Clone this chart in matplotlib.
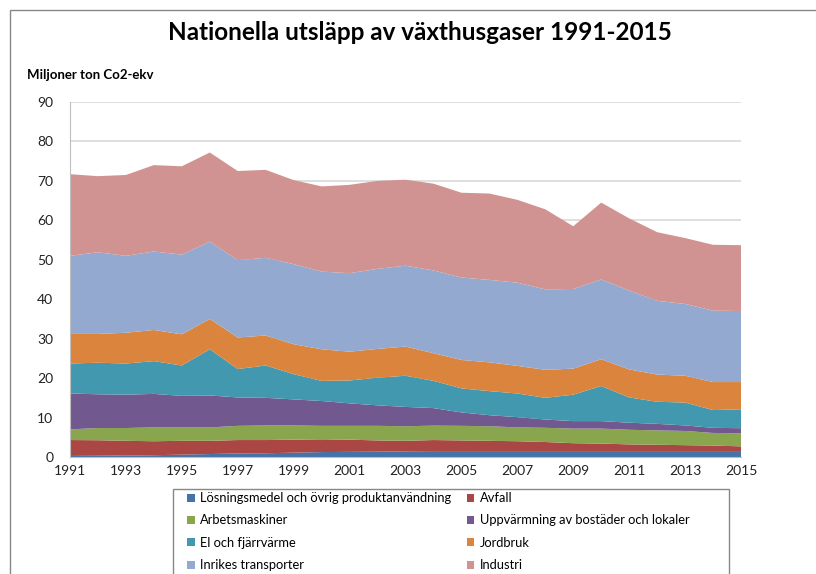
import numpy as np
import matplotlib.pyplot as plt
from matplotlib.patches import Rectangle, Patch

# data (Mton CO2-ekv per sector)
years = list(range(1991, 2016))

losningsmedel = [0.5, 0.45, 0.35, 0.45, 0.6, 0.75, 0.9, 0.95, 1.1, 1.25, 1.3, 1.35, 1.45,
                 1.5, 1.5, 1.5, 1.5, 1.5, 1.5, 1.5, 1.5, 1.5, 1.5, 1.5, 1.5]
avfall = [3.8, 3.8, 3.75, 3.55, 3.5, 3.35, 3.4, 3.35, 3.3, 3.05, 3.1, 2.85, 2.65,
          2.8, 2.7, 2.6, 2.5, 2.3, 2.0, 1.9, 1.7, 1.6, 1.5, 1.4, 1.2]
arbetsmaskiner = [2.7, 3.1, 3.25, 3.5, 3.4, 3.4, 3.6, 3.7, 3.6, 3.6, 3.5, 3.7, 3.7,
                  3.65, 3.7, 3.7, 3.5, 3.6, 3.7, 3.8, 3.7, 3.65, 3.6, 3.2, 3.3]
uppvarmning = [9.1, 8.55, 8.45, 8.5, 8.0, 8.1, 7.2, 7.0, 6.6, 6.3, 5.7, 5.2, 4.9,
               4.45, 3.4, 2.8, 2.6, 2.1, 1.9, 1.9, 1.8, 1.65, 1.4, 1.3, 1.3]
el_fjarrvarme = [7.6, 8.0, 7.9, 8.3, 7.7, 11.7, 7.2, 8.2, 6.4, 5.1, 5.8, 7.0, 7.9,
                 6.9, 6.1, 6.1, 6.0, 5.5, 6.7, 8.9, 6.4, 5.6, 5.8, 4.5, 4.8]
jordbruk = [7.5, 7.3, 7.8, 7.9, 7.9, 7.7, 8.0, 7.6, 7.6, 8.0, 7.3, 7.3, 7.4,
            7.0, 7.2, 7.3, 7.0, 7.1, 6.6, 6.8, 7.1, 6.9, 6.8, 7.1, 6.9]
inrikes_transporter = [19.8, 20.7, 19.5, 19.9, 20.2, 19.6, 19.6, 19.7, 20.3, 19.7, 19.9, 20.3, 20.5,
                       21.0, 20.9, 20.9, 21.1, 20.4, 20.2, 20.2, 20.0, 18.7, 18.2, 18.1, 18.0]
industri = [20.7, 19.3, 20.5, 21.9, 22.4, 22.6, 22.6, 22.3, 21.3, 21.6, 22.4, 22.3, 21.8,
            22.0, 21.5, 21.9, 21.0, 20.3, 15.9, 19.5, 18.3, 17.4, 16.7, 16.7, 16.7]

labels = ["Lösningsmedel och övrig produktanvändning", "Avfall", "Arbetsmaskiner",
          "Uppvärmning av bostäder och lokaler", "El och fjärrvärme", "Jordbruk",
          "Inrikes transporter", "Industri"]
colors = ["#4572A7", "#AA4643", "#89A54E", "#71588F", "#4198AF", "#DB843D",
          "#94A9D0", "#D19391"]

plt.rcParams['font.family'] = ['Lato', 'DejaVu Sans']

fig = plt.figure(figsize=(8.16, 5.74), dpi=100)

# outer chart border (top and left visible)
fig.patches.append(Rectangle((10 / 816, -0.1), 1.0, 1 - 10 / 574 + 0.1,
                             transform=fig.transFigure, fill=False,
                             edgecolor='#888888', linewidth=1.0))

ax = fig.add_axes([70 / 816, 117 / 574, 671 / 816, 355 / 574])

series = [losningsmedel, avfall, arbetsmaskiner, uppvarmning,
          el_fjarrvarme, jordbruk, inrikes_transporter, industri]
ax.stackplot(years, series, colors=colors, linewidth=0)

ax.set_xlim(1991, 2015)
ax.set_ylim(0, 90)
ax.set_yticks(range(0, 91, 10))
ax.set_xticks(range(1991, 2016, 2))
ax.yaxis.grid(True, color='#d9d9d9', linewidth=1.2)
ax.set_axisbelow(True)
for s in ['top', 'right']:
    ax.spines[s].set_visible(False)
ax.spines['left'].set_color('#bfbfbf')
ax.spines['bottom'].set_color('#bfbfbf')
ax.tick_params(axis='both', length=0, labelsize=10, colors='#222222')
ax.tick_params(axis='y', pad=12)
ax.tick_params(axis='x', pad=6)

fig.text(420 / 816, 1 - 33 / 574, "Nationella utsläpp av växthusgaser 1991-2015",
         ha='center', va='center', fontsize=17.5, fontweight='bold')
fig.text(27 / 816, 1 - 75 / 574, "Miljoner ton Co2-ekv", ha='left', va='center',
         fontsize=9.5, fontweight='bold')

# legend box, cut off at the bottom of the image
fig.patches.append(Rectangle((173 / 816, -0.05), 556 / 816, 1 - 489 / 574 + 0.05,
                             transform=fig.transFigure, fill=False,
                             edgecolor='#888888', linewidth=1.0))
order = [0, 2, 4, 6, 1, 3, 5, 7]
handles = [Patch(facecolor=colors[i], label=labels[i]) for i in order]
fig.legend(handles=handles, ncol=2, frameon=False, fontsize=9.3,
           loc='upper left', bbox_to_anchor=(182 / 816, 1 - 487 / 574),
           handlelength=0.6, handleheight=0.6, handletextpad=0.4,
           columnspacing=1.2, labelspacing=0.8, borderaxespad=0)

fig.savefig("out.png", dpi=100)
